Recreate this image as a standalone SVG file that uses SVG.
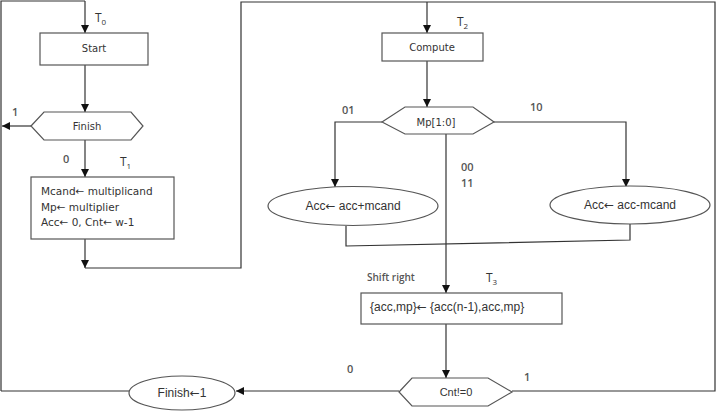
<svg xmlns="http://www.w3.org/2000/svg" width="717" height="412" viewBox="0 0 717 412">
<defs>
<marker id="ah" viewBox="0 0 10 10" refX="10" refY="5" markerWidth="8" markerHeight="8" markerUnits="userSpaceOnUse" orient="auto">
<path d="M0,0 L10,5 L0,10 z" fill="#111"/>
</marker>
<style>
.ln{fill:none;stroke:#333;stroke-width:1.2}
.ar{fill:none;stroke:#333;stroke-width:1.2;marker-end:url(#ah)}
.sh{fill:#fff;stroke:#555;stroke-width:1.2}
.tv{font-family:"DejaVu Sans",Verdana,sans-serif;font-size:10px;fill:#333}
.ta{font-family:"Liberation Sans",Arial,sans-serif;font-size:12px;fill:#333}
.lb{font-family:"Open Sans","Liberation Sans",sans-serif;font-size:11px;font-weight:600;fill:#555}
.tl{font-family:"Open Sans","Liberation Sans",sans-serif;font-size:12px;fill:#333}
.arw{font-family:"DejaVu Sans",sans-serif}
</style>
</defs>
<rect width="717" height="412" fill="#fff"/>
<g id="connectors">
<polyline class="ln" points="1,391 1,1 85,1"/>
<line class="ar" x1="85" y1="1" x2="85" y2="33"/>
<line class="ar" x1="85" y1="65" x2="85" y2="112"/>
<line class="ar" x1="31" y1="126" x2="2" y2="126"/>
<line class="ar" x1="85" y1="140" x2="85" y2="177"/>
<line class="ar" x1="85" y1="239" x2="85" y2="268"/>
<polyline class="ln" points="85,268 241,268 241,2 715,2 715,391 512,391"/>
<line class="ar" x1="427" y1="2" x2="427" y2="33"/>
<line class="ar" x1="427" y1="61" x2="427" y2="107"/>
<polyline class="ar" points="382,122 335,122 335,187"/>
<polyline class="ar" points="494,122 626,122 626,187"/>
<polyline class="ln" points="346,226 346,246 630,240 630,223"/>
<line class="ar" x1="446" y1="134" x2="446" y2="293"/>
<line class="ar" x1="446" y1="324" x2="446" y2="378"/>
<line class="ar" x1="399" y1="391" x2="236" y2="391"/>
<line class="ln" x1="130" y1="391" x2="1" y2="391"/>
</g>
<g id="start">
<rect class="sh" x="40" y="33" width="108" height="32"/>
<text class="tv" x="94" y="52" text-anchor="middle">Start</text>
</g>
<g id="finish">
<polygon class="sh" points="31,126 44,112 131,112 143,126 131,140 44,140"/>
<text class="tv" x="87" y="130" text-anchor="middle">Finish</text>
</g>
<g id="init">
<rect class="sh" x="31" y="177" width="143" height="62"/>
<text class="tv" x="41" y="195" style="font-size:10.5px">Mcand← multiplicand</text>
<text class="tv" x="41" y="211" style="font-size:10.5px">Mp← multiplier</text>
<text class="tv" x="41" y="226" style="font-size:10.5px">Acc←  0, Cnt← w-1</text>
</g>
<g id="compute">
<rect class="sh" x="382" y="33" width="101" height="28"/>
<text class="tv" x="432" y="51" text-anchor="middle">Compute</text>
</g>
<g id="mp">
<polygon class="sh" points="382,122 405,107 473,107 494,122 473,134 405,134"/>
<text class="tv" x="436" y="126" text-anchor="middle">Mp[1:0]</text>
</g>
<g id="add">
<ellipse class="sh" cx="353" cy="206" rx="85" ry="19.5"/>
<text class="ta" x="353" y="210" text-anchor="middle">Acc<tspan class="arw">←</tspan> acc+mcand</text>
</g>
<g id="sub">
<ellipse class="sh" cx="630" cy="205" rx="80" ry="19"/>
<text class="ta" x="630" y="209" text-anchor="middle">Acc<tspan class="arw">←</tspan> acc-mcand</text>
</g>
<g id="shift">
<rect class="sh" x="361" y="293" width="201" height="31"/>
<text class="ta" x="370" y="311">{acc,mp}<tspan class="arw">←</tspan> {acc(n-1),acc,mp}</text>
</g>
<g id="cnt">
<polygon class="sh" points="399,392 412,378 488,378 512,392 488,406 412,406"/>
<text class="ta" x="456" y="396" text-anchor="middle" style="font-size:11px">Cnt!=0</text>
</g>
<g id="setfinish">
<ellipse class="sh" cx="182" cy="393" rx="53" ry="17"/>
<text class="ta" x="182" y="397" text-anchor="middle">Finish<tspan class="arw">←</tspan>1</text>
</g>
<g id="labels">
<text class="tl" x="95" y="22">T<tspan dy="3" font-size="8">0</tspan></text>
<text class="tl" x="120" y="166">T<tspan dy="3" font-size="8">1</tspan></text>
<text class="tl" x="457" y="26">T<tspan dy="3" font-size="8">2</tspan></text>
<text class="tl" x="486" y="282">T<tspan dy="3" font-size="8">3</tspan></text>
<text class="lb" x="12" y="116">1</text>
<text class="lb" x="63" y="163">0</text>
<text class="lb" x="342" y="114">01</text>
<text class="lb" x="530" y="111">10</text>
<text class="lb" x="461" y="171">00</text>
<text class="lb" x="461" y="187">11</text>
<text class="lb" x="367" y="281" style="font-size:10px">Shift right</text>
<text class="lb" x="347" y="373">0</text>
<text class="lb" x="524" y="381">1</text>
</g>
</svg>
